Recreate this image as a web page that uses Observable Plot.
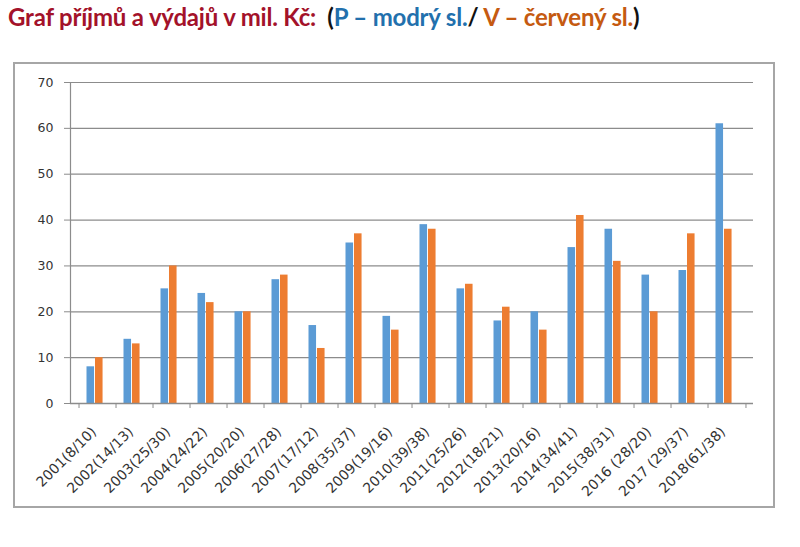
<!DOCTYPE html>
<html><head><meta charset="utf-8">
<script src="https://cdn.jsdelivr.net/npm/d3@7"></script>
<script src="https://cdn.jsdelivr.net/npm/@observablehq/plot@0.6"></script>
<style>
body{margin:0;background:#fff;width:800px;height:547px;position:relative;overflow:hidden;font-family:Lato,sans-serif}
#title{position:absolute;left:8px;top:2px;font-size:24px;font-weight:bold;white-space:nowrap;letter-spacing:-0.2px}
#box{position:absolute;left:13px;top:62px;width:758px;height:442px;border:2px solid #a6a6a6}
#box svg{display:block}
</style></head><body>
<div id="title"><span style="color:#a3122a">Graf příjmů a výdajů v mil. Kč:</span>&nbsp; <span style="color:#111">(</span><span style="color:#2270ad">P – modrý sl.</span><span style="color:#111">/</span> <span style="color:#c55a11">V – červený sl.</span><span style="color:#111">)</span></div>
<div id="box"></div>
<script>
const categories = ["2001(8/10)","2002(14/13)","2003(25/30)","2004(24/22)","2005(20/20)","2006(27/28)","2007(17/12)","2008(35/37)","2009(19/16)","2010(39/38)","2011(25/26)","2012(18/21)","2013(20/16)","2014(34/41)","2015(38/31)","2016 (28/20)","2017 (29/37)","2018(61/38)"];
const prijmy = [8,14,25,24,20,27,17,35,19,39,25,18,20,34,38,28,29,61];
const vydaje = [10,13,30,22,20,28,12,37,16,38,26,21,16,41,31,20,37,38];
const yTicks = [0,10,20,30,40,50,60,70];

const data = categories.map((c,i)=>({c, p: prijmy[i], v: vydaje[i]}));
const W=758, H=442, mL=55, mR=20, mT=18, mB=103;
const step=(W-mL-mR)/categories.length;
const gray="#8c8c8c";

const chart = Plot.plot({
  width:W, height:H, marginLeft:mL, marginRight:mR, marginTop:mT, marginBottom:mB,
  style:{fontFamily:"DejaVu Sans, sans-serif", fontSize:"12px", color:"#333", background:"transparent"},
  x:{domain:categories, padding:0, label:null, axis:null},
  y:{domain:[0,70], label:null, axis:null},
  marks:[
    Plot.gridY(yTicks,{stroke:gray, strokeOpacity:1, strokeWidth:1.2}),
    Plot.barY(data,{x:"c", y:"p", fill:"#5b9bd5", insetLeft:7.5, insetRight:step-16}),
    Plot.barY(data,{x:"c", y:"v", fill:"#ed7d31", insetLeft:16, insetRight:step-24.5}),
    Plot.frame({anchor:"left", stroke:gray, strokeWidth:1.2}),
    Plot.ruleY([0],{stroke:gray, strokeWidth:1.5}),
    Plot.axisY({ticks:yTicks, tickSize:6, tickPadding:11, stroke:gray, label:null, fill:"#333", fontSize:12.5}),
    Plot.axisX({tickSize:5, tickFormat:()=>"", dx:-step/2, stroke:gray, label:null}),
    Plot.axisX({ticks:[categories[categories.length-1]], tickSize:5, tickFormat:()=>"", dx:step/2, stroke:gray, label:null}),
    Plot.axisX({tickSize:0, tickRotate:-45, tickPadding:26, dx:-4, label:null, fill:"#333", fontSize:14})
  ]
});
document.getElementById("box").append(chart);
</script>
</body></html>
